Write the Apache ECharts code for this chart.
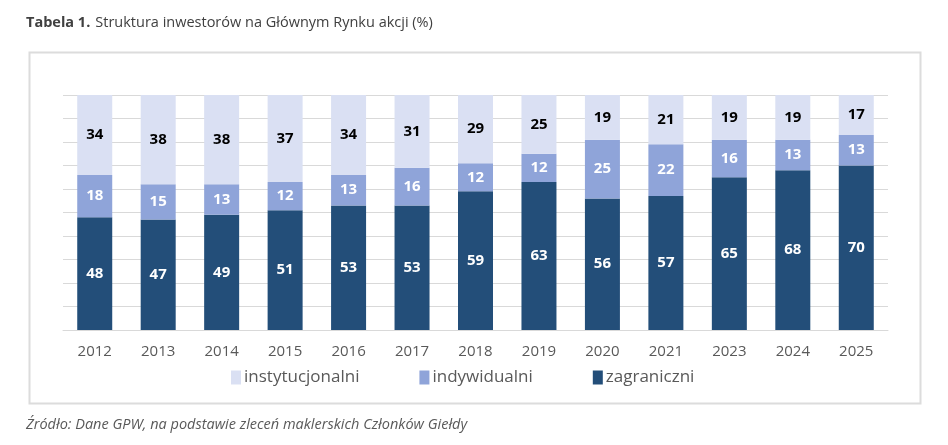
<!DOCTYPE html>
<html>
<head>
<meta charset="utf-8">
<script src="https://cdn.jsdelivr.net/npm/echarts@6/dist/echarts.min.js"></script>
<style>
    html, body { margin: 0; padding: 0; background: #fff; }
    #chart { width: 948px; height: 445px; }
</style>
</head>
<body>
<div id="chart"></div>
<script>
var years = ['2012', '2013', '2014', '2015', '2016', '2017', '2018', '2019', '2020', '2021', '2023', '2024', '2025'];
var zagraniczni = [48, 47, 49, 51, 53, 53, 59, 63, 56, 57, 65, 68, 70];
var indywidualni = [18, 15, 13, 12, 13, 16, 12, 12, 25, 22, 16, 13, 13];
var instytucjonalni = [34, 38, 38, 37, 34, 31, 29, 25, 19, 21, 19, 19, 17];

var chart = echarts.init(document.getElementById('chart'));

/* wspolny styl etykiet na slupkach */
function barLabel(color) {
    return {
        show: true,
        position: 'inside',
        color: color,
        fontFamily: 'Open Sans',
        fontWeight: 'bold',
        fontSize: 15
    };
}

var option = {
    backgroundColor: '#fff',
    animation: false,
    title: {
        left: 26,
        top: 14,
        padding: 0,
        text: '{b|Tabela 1.} {n|Struktura inwestorów na Głównym Rynku akcji (%)}',
        textStyle: {
            fontWeight: 'normal',
            rich: {
                b: { fontFamily: 'Open Sans', fontWeight: 'bold', fontSize: 14.5, color: '#404040' },
                n: { fontFamily: 'Open Sans', fontWeight: 'normal', fontSize: 14.5, color: '#404040' }
            }
        }
    },
    graphic: [{
        type: 'rect',
        left: 27,
        top: 50,
        shape: { width: 891, height: 351 },
        style: { fill: 'none', stroke: '#dcdcdc', lineWidth: 2 },
        z: -1
    }, {
        type: 'text',
        left: 26,
        top: 417,
        style: {
            text: 'Źródło: Dane GPW, na podstawie zleceń maklerskich Członków Giełdy',
            fontFamily: 'Open Sans',
            fontStyle: 'italic',
            fontSize: 14.5,
            fill: '#595959'
        }
    }],
    legend: {
        top: 364,
        left: 226,
        itemWidth: 10,
        itemHeight: 14,
        itemGap: 60,
        icon: 'rect',
        selectedMode: false,
        textStyle: { fontFamily: 'Open Sans', fontSize: 17, color: '#595959', padding: [0, 0, 0, -2] },
        data: ['instytucjonalni', 'indywidualni', 'zagraniczni']
    },
    grid: {
        left: 63,
        right: 60,
        top: 95,
        bottom: 115
    },
    xAxis: {
        type: 'category',
        data: years,
        axisLine: { lineStyle: { color: '#d9d9d9' } },
        axisTick: { show: false },
        axisLabel: { fontFamily: 'Open Sans', fontSize: 15, color: '#595959', margin: 14 }
    },
    yAxis: {
        type: 'value',
        min: 0,
        max: 100,
        interval: 10,
        axisLine: { show: false },
        axisTick: { show: false },
        axisLabel: { show: false },
        splitLine: { lineStyle: { color: '#d9d9d9', width: 1 } }
    },
    series: [{
        name: 'zagraniczni',
        type: 'bar',
        stack: 'all',
        barWidth: 35,
        itemStyle: { color: '#234e79' },
        label: barLabel('#fff'),
        data: zagraniczni
    }, {
        name: 'indywidualni',
        type: 'bar',
        stack: 'all',
        barWidth: 35,
        itemStyle: { color: '#8fa4d9' },
        label: barLabel('#fff'),
        data: indywidualni
    }, {
        name: 'instytucjonalni',
        type: 'bar',
        stack: 'all',
        barWidth: 35,
        itemStyle: { color: '#dae0f3' },
        label: barLabel('#000'),
        data: instytucjonalni
    }]
};

chart.setOption(option);
</script>
</body>
</html>
